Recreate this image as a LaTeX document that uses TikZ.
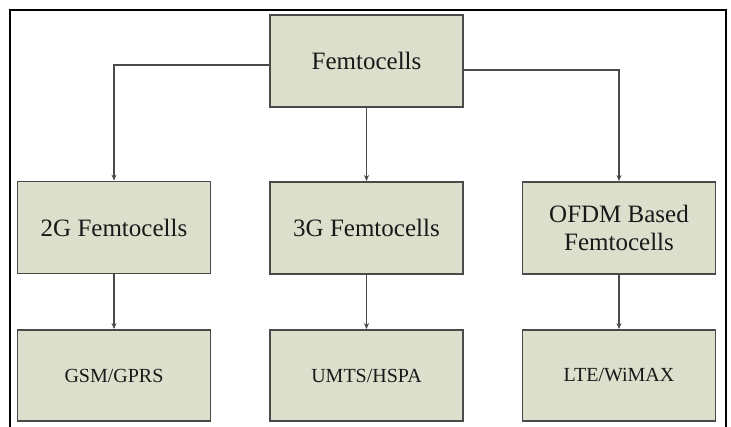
\documentclass[tikz,border=0pt]{standalone}
\usepackage{fontspec}
\setmainfont{Liberation Serif}
\usetikzlibrary{arrows.meta}
\definecolor{boxfill}{HTML}{DCDFCB}
\definecolor{boxline}{HTML}{4A4A4A}
\definecolor{conn}{HTML}{4A4A4A}
\begin{document}
\begin{tikzpicture}[x=1pt,y=-1pt,
  box/.style={draw=boxline,fill=boxfill,line width=1.9pt,minimum width=193pt,minimum height=92pt,inner sep=0pt,align=center,text=black!90,font=\fontsize{25}{28}\selectfont},
  leaf/.style={box,minimum height=91pt,font=\fontsize{20}{24}\selectfont},
  conn/.style={draw=conn,line width=1.6pt,-{Stealth[length=6pt,width=5pt]}}]
\useasboundingbox (0,0) rectangle (731,426);
\fill[white] (0,0) rectangle (731,426);
\draw[line width=1.2pt,black] (10,430) -- (10,10) -- (726,10) -- (726,430);
\node[box] (top) at (366.5,61) {Femtocells};
\node[box] (g2) at (114,227.5) {2G Femtocells};
\node[box] (g3) at (366.5,228) {3G Femtocells};
\node[box] (ofdm) at (619,228) {OFDM Based\\Femtocells};
\node[leaf] (gsm) at (114,375.5) {GSM/GPRS};
\node[leaf] (umts) at (366.5,375.5) {UMTS/HSPA};
\node[leaf] (lte) at (619,375.5) {LTE/WiMAX};
\draw[conn] ([yshift=-4pt]top.west) -| (g2.north);
\draw[conn] ([yshift=-9pt]top.east) -| (ofdm.north);
\draw[conn] (top.south) -- (g3.north);
\draw[conn] (g2.south) -- (gsm.north);
\draw[conn] (g3.south) -- (umts.north);
\draw[conn] (ofdm.south) -- (lte.north);
\end{tikzpicture}
\end{document}
